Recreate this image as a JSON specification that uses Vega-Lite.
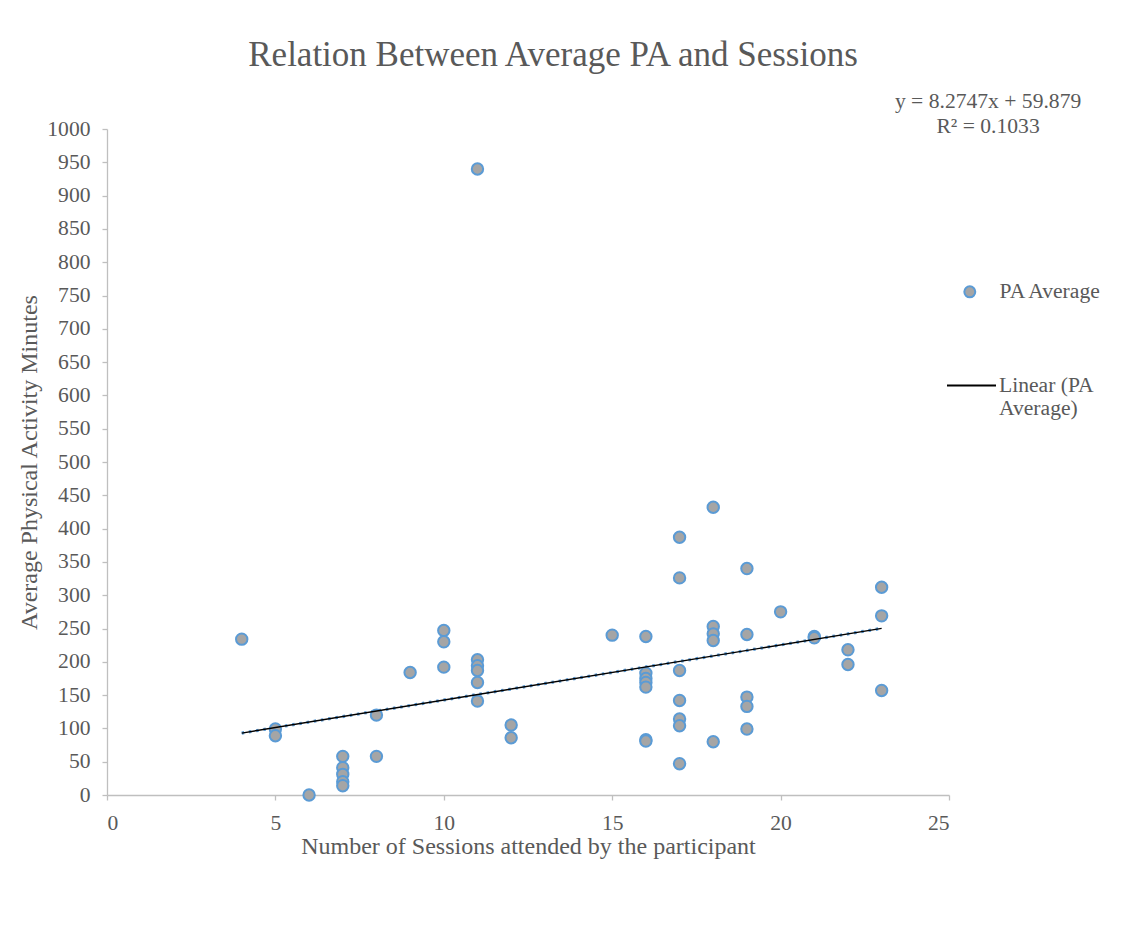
{
  "$schema": "https://vega.github.io/schema/vega-lite/v6.json",
  "autosize": {"type": "none"},
  "width": 842,
  "height": 666,
  "padding": {"left": 107, "top": 129, "right": 173, "bottom": 150},
  "background": "white",
  "config": {
    "font": "Liberation Serif",
    "view": {"stroke": null},
    "axis": {
      "grid": false,
      "domainColor": "#bfbfbf",
      "domainWidth": 1.3,
      "tickColor": "#bfbfbf",
      "tickWidth": 1.3,
      "tickSize": 5,
      "labelFont": "Liberation Serif",
      "labelFontSize": 21.6,
      "labelColor": "#595959",
      "titleFont": "Liberation Serif",
      "titleFontSize": 24,
      "titleFontWeight": "normal",
      "titleColor": "#595959",
      "labelOverlap": false
    },
    "legend": {
      "labelFont": "Liberation Serif",
      "labelFontSize": 21.6,
      "labelColor": "#595959",
      "padding": 0
    }
  },
  "title": {
    "text": "Relation Between Average PA and Sessions",
    "font": "Liberation Serif",
    "fontSize": 35,
    "fontWeight": "normal",
    "color": "#595959",
    "anchor": "middle",
    "dx": 25,
    "offset": 18
  },
  "datasets": {
    "points": [
      {"sessions": 4, "pa": 234, "series": "PA Average"},
      {"sessions": 5, "pa": 99, "series": "PA Average"},
      {"sessions": 5, "pa": 89, "series": "PA Average"},
      {"sessions": 6, "pa": 0, "series": "PA Average"},
      {"sessions": 7, "pa": 58, "series": "PA Average"},
      {"sessions": 7, "pa": 41, "series": "PA Average"},
      {"sessions": 7, "pa": 31, "series": "PA Average"},
      {"sessions": 7, "pa": 20, "series": "PA Average"},
      {"sessions": 7, "pa": 14, "series": "PA Average"},
      {"sessions": 8, "pa": 120, "series": "PA Average"},
      {"sessions": 8, "pa": 58, "series": "PA Average"},
      {"sessions": 9, "pa": 184, "series": "PA Average"},
      {"sessions": 10, "pa": 247, "series": "PA Average"},
      {"sessions": 10, "pa": 230, "series": "PA Average"},
      {"sessions": 10, "pa": 192, "series": "PA Average"},
      {"sessions": 11, "pa": 940, "series": "PA Average"},
      {"sessions": 11, "pa": 203, "series": "PA Average"},
      {"sessions": 11, "pa": 194, "series": "PA Average"},
      {"sessions": 11, "pa": 187, "series": "PA Average"},
      {"sessions": 11, "pa": 169, "series": "PA Average"},
      {"sessions": 11, "pa": 141, "series": "PA Average"},
      {"sessions": 12, "pa": 105, "series": "PA Average"},
      {"sessions": 12, "pa": 86, "series": "PA Average"},
      {"sessions": 15, "pa": 240, "series": "PA Average"},
      {"sessions": 16, "pa": 238, "series": "PA Average"},
      {"sessions": 16, "pa": 183, "series": "PA Average"},
      {"sessions": 16, "pa": 175, "series": "PA Average"},
      {"sessions": 16, "pa": 169, "series": "PA Average"},
      {"sessions": 16, "pa": 162, "series": "PA Average"},
      {"sessions": 16, "pa": 83, "series": "PA Average"},
      {"sessions": 16, "pa": 81, "series": "PA Average"},
      {"sessions": 17, "pa": 387, "series": "PA Average"},
      {"sessions": 17, "pa": 326, "series": "PA Average"},
      {"sessions": 17, "pa": 187, "series": "PA Average"},
      {"sessions": 17, "pa": 142, "series": "PA Average"},
      {"sessions": 17, "pa": 114, "series": "PA Average"},
      {"sessions": 17, "pa": 104, "series": "PA Average"},
      {"sessions": 17, "pa": 47, "series": "PA Average"},
      {"sessions": 18, "pa": 432, "series": "PA Average"},
      {"sessions": 18, "pa": 253, "series": "PA Average"},
      {"sessions": 18, "pa": 242, "series": "PA Average"},
      {"sessions": 18, "pa": 232, "series": "PA Average"},
      {"sessions": 18, "pa": 80, "series": "PA Average"},
      {"sessions": 19, "pa": 340, "series": "PA Average"},
      {"sessions": 19, "pa": 241, "series": "PA Average"},
      {"sessions": 19, "pa": 147, "series": "PA Average"},
      {"sessions": 19, "pa": 133, "series": "PA Average"},
      {"sessions": 19, "pa": 99, "series": "PA Average"},
      {"sessions": 20, "pa": 275, "series": "PA Average"},
      {"sessions": 21, "pa": 238, "series": "PA Average"},
      {"sessions": 21, "pa": 236, "series": "PA Average"},
      {"sessions": 22, "pa": 218, "series": "PA Average"},
      {"sessions": 22, "pa": 196, "series": "PA Average"},
      {"sessions": 23, "pa": 312, "series": "PA Average"},
      {"sessions": 23, "pa": 269, "series": "PA Average"},
      {"sessions": 23, "pa": 157, "series": "PA Average"}
    ],
    "trend": [
      {"sessions": 4, "pa": 92.98, "series": "Linear (PA Average)"},
      {"sessions": 23, "pa": 250.2, "series": "Linear (PA Average)"}
    ]
  },
  "layer": [
    {
      "data": {"name": "trend"},
      "mark": {"type": "line", "stroke": "#5b9bd5", "strokeWidth": 3.2, "strokeDash": [2.5, 4.8], "strokeCap": "butt"},
      "encoding": {
        "x": {"field": "sessions", "type": "quantitative", "scale": {"domain": [0, 25], "nice": false, "zero": false},
          "axis": {"values": [0, 5, 10, 15, 20, 25], "format": "d", "title": "Number of Sessions attended by the participant", "labelPadding": 12, "titlePadding": 1}},
        "y": {"field": "pa", "type": "quantitative", "scale": {"domain": [0, 1000], "nice": false, "zero": false},
          "axis": {"values": [0, 50, 100, 150, 200, 250, 300, 350, 400, 450, 500, 550, 600, 650, 700, 750, 800, 850, 900, 950, 1000], "format": "d", "title": "Average Physical Activity Minutes", "labelPadding": 12, "titlePadding": 5}}
      }
    },
    {
      "data": {"name": "points"},
      "mark": {"type": "point", "shape": "circle", "filled": true, "stroke": "#5b9bd5", "strokeWidth": 2, "size": 130, "opacity": 1},
      "encoding": {
        "x": {"field": "sessions", "type": "quantitative", "scale": {"domain": [0, 25], "nice": false, "zero": false},
          "axis": {"values": [0, 5, 10, 15, 20, 25], "format": "d", "title": "Number of Sessions attended by the participant", "labelPadding": 12, "titlePadding": 1}},
        "y": {"field": "pa", "type": "quantitative", "scale": {"domain": [0, 1000], "nice": false, "zero": false},
          "axis": {"values": [0, 50, 100, 150, 200, 250, 300, 350, 400, 450, 500, 550, 600, 650, 700, 750, 800, 850, 900, 950, 1000], "format": "d", "title": "Average Physical Activity Minutes", "labelPadding": 12, "titlePadding": 5}},
        "fill": {
          "field": "series", "type": "nominal",
          "scale": {"domain": ["PA Average"], "range": ["#a5a5a5"]},
          "legend": {
            "title": null,
            "orient": "none",
            "legendX": 852,
            "legendY": 152,
            "symbolType": "circle",
            "symbolSize": 120,
            "symbolStrokeColor": "#5b9bd5",
            "symbolStrokeWidth": 2,
            "symbolFillColor": "#a5a5a5",
            "labelOffset": 19
          }
        }
      }
    },
    {
      "data": {"name": "trend"},
      "mark": {"type": "line", "strokeWidth": 1.4},
      "encoding": {
        "x": {"field": "sessions", "type": "quantitative", "scale": {"domain": [0, 25], "nice": false, "zero": false},
          "axis": {"values": [0, 5, 10, 15, 20, 25], "format": "d", "title": "Number of Sessions attended by the participant", "labelPadding": 12, "titlePadding": 1}},
        "y": {"field": "pa", "type": "quantitative", "scale": {"domain": [0, 1000], "nice": false, "zero": false},
          "axis": {"values": [0, 50, 100, 150, 200, 250, 300, 350, 400, 450, 500, 550, 600, 650, 700, 750, 800, 850, 900, 950, 1000], "format": "d", "title": "Average Physical Activity Minutes", "labelPadding": 12, "titlePadding": 5}},
        "stroke": {
          "field": "series", "type": "nominal",
          "scale": {"domain": ["Linear (PA Average)"], "range": ["#000000"]},
          "legend": {
            "title": null,
            "orient": "none",
            "legendX": 839,
            "legendY": 231,
            "symbolType": "stroke",
            "symbolSize": 2401,
            "symbolStrokeWidth": 2,
            "labelOffset": 2,
            "labelBaseline": "middle",
            "labelExpr": "['Linear (PA', 'Average)']"
          }
        }
      }
    },
    {
      "data": {"values": [{}]},
      "mark": {
        "type": "text",
        "text": ["y = 8.2747x + 59.879", "R² = 0.1033"],
        "font": "Liberation Serif",
        "fontSize": 21.6,
        "lineHeight": 25,
        "color": "#595959",
        "align": "center",
        "baseline": "middle"
      },
      "encoding": {
        "x": {"datum": 26.16, "type": "quantitative", "scale": {"domain": [0, 25], "nice": false, "zero": false},
          "axis": {"values": [0, 5, 10, 15, 20, 25], "format": "d", "title": "Number of Sessions attended by the participant", "labelPadding": 12, "titlePadding": 1}},
        "y": {"datum": 1041, "type": "quantitative", "scale": {"domain": [0, 1000], "nice": false, "zero": false},
          "axis": {"values": [0, 50, 100, 150, 200, 250, 300, 350, 400, 450, 500, 550, 600, 650, 700, 750, 800, 850, 900, 950, 1000], "format": "d", "title": "Average Physical Activity Minutes", "labelPadding": 12, "titlePadding": 5}}
      }
    }
  ]
}
